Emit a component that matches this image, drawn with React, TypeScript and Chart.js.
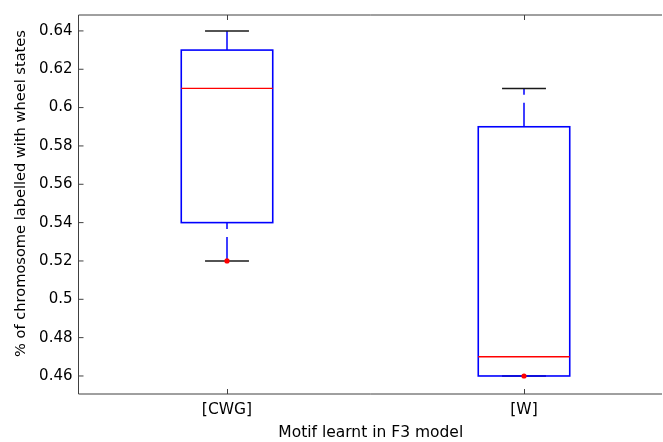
import React, { useEffect, useRef } from 'react';
import { Chart, registerables } from 'chart.js';

Chart.register(...registerables);

// ---- data ----
const categories = ['[CWG]', '[W]'];
const categoryPositions = [1, 2];
const whiskerLow = [0.52, 0.46];
const quartile1 = [0.54, 0.46];
const medians = [0.61, 0.47];
const quartile3 = [0.63, 0.59];
const whiskerHigh = [0.64, 0.61];
const markedPoints = [0.52, 0.46];
const yTicks = [0.46, 0.48, 0.5, 0.52, 0.54, 0.56, 0.58, 0.6, 0.62, 0.64];
const yMin = 0.4506;
const yMax = 0.6483;
const xMin = 0.5;
const xMax = 2.468;
const xTitle = 'Motif learnt in F3 model';
const yTitle = '% of chromosome labelled with wheel states';

// ---- styles ----
const FONT = 'DejaVu Sans';
const BLUE = '#0000ff';
const RED = '#ff0000';
const CAP = '#1a1a1a';
const AXIS = '#404040';
const CANVAS_W = 663;
const CANVAS_H = 442;
const BOX_WIDTH = 0.308; // in x-axis units
const CAP_FRACTION = 0.48; // cap width as share of box width

const boxParts = {
  id: 'boxParts',
  beforeDatasetsDraw(chart: any) {
    const { ctx } = chart;
    const x = chart.scales.x;
    const y = chart.scales.y;
    categoryPositions.forEach((pos, i) => {
      const cx = x.getPixelForValue(pos);
      const left = x.getPixelForValue(pos - BOX_WIDTH / 2);
      const right = x.getPixelForValue(pos + BOX_WIDTH / 2);
      const w = right - left;
      ctx.save();
      ctx.strokeStyle = BLUE;
      ctx.lineWidth = 1.5;
      ctx.setLineDash([24, 8]);
      const segs = [
        [whiskerLow[i], quartile1[i]],
        [quartile3[i], whiskerHigh[i]],
      ];
      segs.forEach(([a, b]) => {
        const pa = y.getPixelForValue(a);
        const pb = y.getPixelForValue(b);
        if (Math.abs(pa - pb) < 0.5) return;
        ctx.beginPath();
        ctx.moveTo(cx, pa);
        ctx.lineTo(cx, pb);
        ctx.stroke();
      });
      ctx.setLineDash([]);
      const capHalf = (w * CAP_FRACTION) / 2;
      ctx.strokeStyle = CAP;
      ctx.lineWidth = 1.5;
      [whiskerLow[i], whiskerHigh[i]].forEach((v) => {
        const py = y.getPixelForValue(v);
        ctx.beginPath();
        ctx.moveTo(cx - capHalf, py);
        ctx.lineTo(cx + capHalf, py);
        ctx.stroke();
      });
      const p1 = y.getPixelForValue(quartile1[i]);
      const p3 = y.getPixelForValue(quartile3[i]);
      ctx.strokeStyle = BLUE;
      ctx.lineWidth = 1.6;
      ctx.strokeRect(left, p3, w, p1 - p3);
      const pm = y.getPixelForValue(medians[i]);
      ctx.strokeStyle = RED;
      ctx.lineWidth = 1.4;
      ctx.beginPath();
      ctx.moveTo(left, pm);
      ctx.lineTo(right, pm);
      ctx.stroke();
      ctx.restore();
    });
  },
  afterDraw(chart: any) {
    const { ctx, chartArea: a } = chart;
    const x = chart.scales.x;
    const y = chart.scales.y;
    ctx.save();
    ctx.strokeStyle = AXIS;
    ctx.lineWidth = 1;
    ctx.beginPath();
    ctx.moveTo(a.right - 1, a.top);
    ctx.lineTo(a.left, a.top);
    ctx.lineTo(a.left, a.bottom);
    ctx.lineTo(a.right - 1, a.bottom);
    yTicks.forEach((v) => {
      const py = y.getPixelForValue(v);
      ctx.moveTo(a.left, py);
      ctx.lineTo(a.left + 5, py);
    });
    categoryPositions.forEach((pos) => {
      const px = Math.round(x.getPixelForValue(pos)) + 0.5;
      ctx.moveTo(px, a.bottom);
      ctx.lineTo(px, a.bottom - 5);
      ctx.moveTo(px, a.top);
      ctx.lineTo(px, a.top + 5);
    });
    ctx.stroke();
    ctx.fillStyle = '#000';
    ctx.font = `14.6px "${FONT}"`;
    ctx.textAlign = 'center';
    ctx.textBaseline = 'middle';
    ctx.translate(21, (a.top + a.bottom) / 2 - 11);
    ctx.rotate(-Math.PI / 2);
    ctx.fillText(yTitle, 0, 0);
    ctx.restore();
  },
};

export default function App() {
  const ref = useRef<HTMLCanvasElement | null>(null);
  useEffect(() => {
    if (!ref.current) return;
    const chart = new Chart(ref.current, {
      type: 'scatter',
      data: {
        datasets: [
          {
            data: markedPoints.map((v, i) => ({ x: categoryPositions[i], y: v })),
            showLine: false,
            pointRadius: 2.6,
            pointHoverRadius: 2.6,
            pointBackgroundColor: RED,
            pointBorderColor: RED,
            pointBorderWidth: 0,
            clip: false,
          } as any,
        ],
      },
      options: {
        responsive: false,
        animation: false,
        events: [],
        layout: { autoPadding: false, padding: { top: 14, right: 0, left: 0, bottom: 0 } },
        plugins: { legend: { display: false }, tooltip: { enabled: false } },
        scales: {
          x: {
            type: 'linear',
            min: xMin,
            max: xMax,
            grid: { display: false, drawTicks: false },
            border: { display: false },
            afterBuildTicks: (s: any) => {
              s.ticks = categoryPositions.map((v) => ({ value: v }));
            },
            ticks: {
              padding: 7,
              color: '#000',
              font: { family: FONT, size: 15.5 },
              callback: (v: any) => {
                const idx = categoryPositions.indexOf(Number(v));
                return idx >= 0 ? categories[idx] : '';
              },
            },
            title: {
              display: true,
              text: xTitle,
              color: '#000',
              font: { family: FONT, size: 15.5 },
              padding: { top: 0, bottom: 0 },
            },
            afterFit: (s: any) => {
              s.height = 48;
            },
          },
          y: {
            type: 'linear',
            min: yMin,
            max: yMax,
            grid: { display: false, drawTicks: false },
            border: { display: false },
            afterBuildTicks: (s: any) => {
              s.ticks = yTicks.map((v) => ({ value: v }));
            },
            ticks: {
              padding: 6,
              color: '#000',
              font: { family: FONT, size: 15 },
              callback: (v: any) => String(+Number(v).toFixed(2)),
            },
            title: { display: false },
            afterFit: (s: any) => {
              s.width = 78.5;
            },
          },
        },
      },
      plugins: [boxParts],
    });
    return () => chart.destroy();
  }, []);
  return (
    <div style={{ position: 'fixed', left: 0, top: 0, width: 663, height: 442, overflow: 'hidden', background: '#fff' }}>
      <canvas
        ref={ref}
        width={CANVAS_W}
        height={CANVAS_H}
        style={{ width: CANVAS_W, height: CANVAS_H, display: 'block' }}
      />
    </div>
  );
}
